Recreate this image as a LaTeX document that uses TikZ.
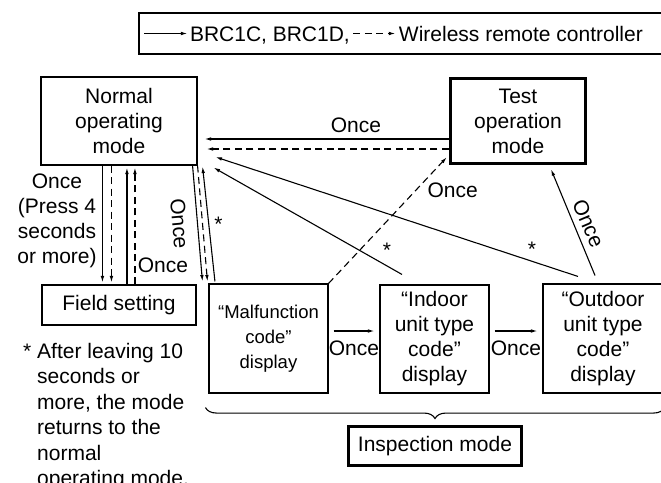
\documentclass[tikz,border=0pt]{standalone}
\usepackage{fontspec}
\setmainfont{Liberation Sans}
\usetikzlibrary{arrows.meta, positioning, calc, decorations.pathreplacing}

\tikzset{
  modebox/.style={draw, line width=1.1pt, align=center, inner sep=0pt, font=\fontsize{21}{25}\selectfont},
  boldbox/.style={modebox, line width=3.4pt},
  lbl/.style={inner sep=0pt, font=\fontsize{21}{25}\selectfont},
  arr/.style={-{Latex[length=6.5pt,width=3.6pt]}, line width=1.1pt},
  dsh/.style={dash pattern=on 7pt off 4.5pt},
}

\begin{document}
\begin{tikzpicture}[x=1pt, y=-1pt]
            \useasboundingbox (0,0) rectangle (661,482);
            \node[draw, line width=1.1pt, inner sep=0pt, minimum width=524pt, minimum height=41pt] (legend) at (401,33.5) {};
            \draw[arr] ($(legend.west)+(6,0)$) -- ++(43,0) node[lbl, anchor=base west, xshift=2pt, yshift=-7.5pt] (brc) {BRC1C, BRC1D,};
            \draw[arr, dsh] ($(brc.base east)+(3,-7.5)$) -- ++(42,0) node[lbl, anchor=base west, xshift=3pt, yshift=-7.5pt] (wrl) {Wireless remote controller};

            \node[modebox, minimum width=156pt, minimum height=88pt] (normal) at (119,121) {Normal\\operating\\mode};
            \node[boldbox, minimum width=135pt, minimum height=85pt] (test) at (518,121) {Test\\operation\\mode};
            \node[modebox, minimum width=154pt, minimum height=40pt] (field) at (119,305) {Field setting};
            \node[modebox, minimum width=119pt, minimum height=109pt, font=\fontsize{18.5}{25}\selectfont] (malf) at (268.5,338.5) {“Malfunction\\code”\\display};
            \node[modebox, minimum width=109pt, minimum height=108pt] (indoor) at (434.5,339) {“Indoor\\unit type\\code”\\display};
            \node[modebox, minimum width=120pt, minimum height=109pt] (outdoor) at (603,338.5) {“Outdoor\\unit type\\code”\\display};
            \node[boldbox, minimum width=173pt, minimum height=39pt] (insp) at (435,446) {Inspection mode};

            % back to normal operation
            \draw[arr] ($(test.west)+(0,18)$) -- node[lbl, pos=0.38, above=6pt] {Once} ($(normal.east)+(7,18)$);
            \draw[arr, dsh] ($(test.west)+(0,28)$) -- ($(normal.east)+(9,28)$);
            \draw[arr, dsh] (malf.north east) -- node[lbl, pos=0.74, right=11pt] {Once} ($(test.south west)+(-2,-8)$);
            \draw[arr] ($(indoor.north)+(-32.5,-10)$) -- node[lbl, pos=0.08, above=8pt] {*} ($(normal.south east)+(16,2)$);
            \draw[arr] ($(outdoor.north)+(-25,-7)$) -- node[lbl, pos=0.127, above=4pt] {*} ($(normal.east)+(18,36)$);
            \draw[arr] ($(outdoor.north)+(-8,-8)$) -- node[lbl, pos=0.49, xshift=15pt, rotate=-67] {Once} ($(test.south)+(33,4)$);

            % field setting
            \draw[arr] ($(normal.south west)+(62,0)$) -- ($(field.north west)+(61,-2)$);
            \draw[arr, dsh] ($(normal.south west)+(71,0)$) -- ($(field.north west)+(70,-2)$);
            \draw[arr] ($(field.north west)+(85.5,0)$) -- ($(normal.south west)+(86.5,2)$);
            \draw[arr, dsh] ($(field.north west)+(93.5,0)$) -- ($(normal.south west)+(94.5,2)$);
            \node[lbl, align=center] (press) at (57,221) {Once\\(Press 4\\seconds\\or more)};
            \node[lbl] (fieldback) at (163,265) {Once};

            % inspection mode
            \draw[arr] ($(normal.south east)+(-5,0)$) -- node[lbl, pos=0.5, xshift=-18pt, rotate=-85] {Once} ($(malf.north west)+(-6,-2)$);
            \draw[arr, dsh] (normal.south east) -- ($(malf.north west)+(-1,-2)$);
            \draw[arr] ($(malf.north west)+(6.5,-2)$) -- node[lbl, pos=0.5, right=5pt] {*} ($(normal.south east)+(5,1)$);
            \draw[arr] ($(malf.east)+(5,-7.5)$) -- node[lbl, below=9pt] {Once} ($(indoor.west)+(-5,-8)$);
            \draw[arr] ($(indoor.east)+(5,-8)$) -- node[lbl, below=9pt] {Once} ($(outdoor.west)+(-5,-7.5)$);
            \draw[line width=1.1pt, decorate, decoration={brace, mirror, amplitude=11pt}] ($(malf.south west)+(-3,14)$) -- ($(outdoor.south east)+(1,14)$);

            \node[lbl, align=left, anchor=north west, font=\fontsize{21}{25.5}\selectfont] (note) at (37,343) {\llap{*\hspace{6pt}}After leaving 10\\seconds or\\more, the mode\\returns to the\\normal\\operating mode.};
        \end{tikzpicture}
\end{document}
